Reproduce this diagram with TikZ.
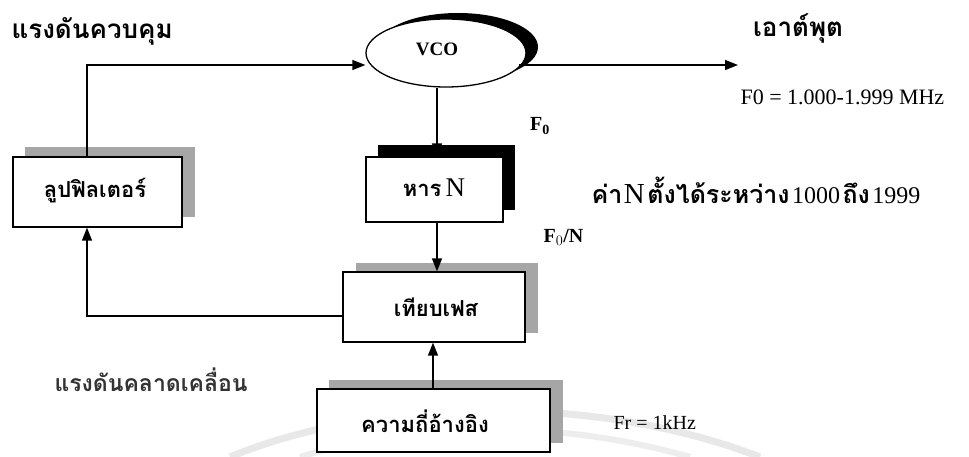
\documentclass[tikz,border=0pt]{standalone}
\usepackage{fontspec}
\setmainfont{Liberation Serif}
\newfontfamily\thai[Script=Thai]{Loma}
\usetikzlibrary{arrows.meta,shapes.geometric,calc}
\tikzset{
  conn/.style={line width=1.4pt,-{Triangle[length=13pt,width=10pt]}},
  boxnode/.style={draw,line width=1.3pt,fill=white,inner sep=0pt},
  thaibox/.style={font=\thai\bfseries\fontsize{22}{25}\selectfont},
  thaihead/.style={font=\thai\bfseries\fontsize{26}{29}\selectfont},
  sertxt/.style={font=\fontsize{22}{25}\selectfont},
  shade/.style={fill=gray!70},
}
\begin{document}
\begin{tikzpicture}[x=1pt,y=-1pt]
\useasboundingbox[fill=white] (0,0) rectangle (969,457);
% watermark arcs
\draw[gray!18,line width=7pt] (230,457) .. controls (380,395) and (600,395) .. (760,457);
\draw[gray!14,line width=6pt] (300,457) .. controls (420,420) and (560,420) .. (690,457);
% shadows
\fill[shade] (25,147) rectangle (195,217);
\fill[black] (378,145) rectangle (515,210);
\fill[shade] (356,263) rectangle (538,333);
\fill[shade] (329,380) rectangle (563,443);
\fill[black] (458,47) ellipse [x radius=80, y radius=34];
% boxes
\node[boxnode,minimum width=169pt,minimum height=70pt] (lf) at (97.5,192) {};
\node[thaibox] at (95,191) {ลูปฟิลเตอร์};
\node[draw,ellipse,line width=1.3pt,fill=white,minimum width=160pt,minimum height=68pt,inner sep=0pt] (vco) at (446,53) {};
\node[font=\bfseries\fontsize{19}{21}\selectfont] at (437,49) {VCO};
\node[boxnode,minimum width=137pt,minimum height=65pt] (div) at (434.5,189.5) {};
\node at (434,188) {{\thai\bfseries\fontsize{22}{25}\selectfont หาร}\, {\fontsize{27}{30}\selectfont N}};
\node[boxnode,minimum width=182pt,minimum height=70pt] (pd) at (434,307) {};
\node[thaibox] at (436,307) {เทียบเฟส};
\node[boxnode,minimum width=233pt,minimum height=63pt] (ref) at (433.5,420.5) {};
\node[thaibox] at (425,421) {ความถี่อ้างอิง};
% coordinates
\coordinate (out) at (738,65);
\coordinate (lftop) at (87,65);
\coordinate (lfbot) at (87,316);
% connectors
\draw[conn] (lf.north -| lftop) -- (lftop) -- (vco.west |- lftop);
\draw[conn] ($(vco.east)+(-8,12)$) -- (out);
\draw[conn] (vco.south -| 437,0) -- (div.north -| 437,0);
\draw[conn] (div.south -| 437,0) -- (pd.north -| 437,0);
\draw[conn] (ref.north -| 433,0) -- (pd.south -| 433,0);
\draw[conn] (pd.west |- lfbot) -- (lfbot) -- (lf.south -| lfbot);
% labels
\node[thaihead,anchor=west] (lbl1) at (8,31) {แรงดันควบคุม};
\node[thaihead,anchor=center] (lbl2) at (798,28) {เอาต์พุต};
\node[sertxt,anchor=west] (lbl3) at (737,97) {F0 = 1.000-1.999 MHz};
\node[font=\bfseries\fontsize{20}{23}\selectfont] (lbl4) at (540,126) {F$_{\mathbf{0}}$};
\node[font=\bfseries\fontsize{20}{23}\selectfont,anchor=west] (lbl5) at (540,237) {F$_{0}$/N};
\node[anchor=west] (lbl6) at (588,190) {{\thai\bfseries\fontsize{25}{28}\selectfont ค่า}\,{\fontsize{29}{32}\selectfont N} {\thai\bfseries\fontsize{25}{28}\selectfont ตั้งได้ระหว่าง} {\fontsize{24}{27}\selectfont 1000} {\thai\bfseries\fontsize{25}{28}\selectfont ถึง} {\fontsize{24}{27}\selectfont 1999}};
\node[anchor=west,font=\thai\bfseries\fontsize{23}{26}\selectfont,text=black!80] (lbl7) at (51,380) {แรงดันคลาดเคลื่อน};
\node[anchor=west,font=\fontsize{20}{23}\selectfont] (lbl8) at (610,423) {Fr = 1kHz};
\end{tikzpicture}
\end{document}
